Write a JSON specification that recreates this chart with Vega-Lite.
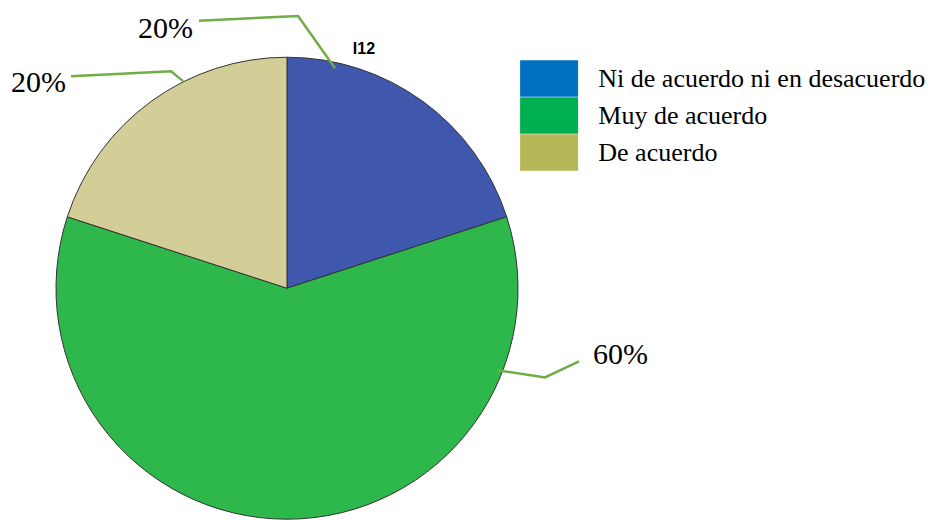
{
  "$schema": "https://vega.github.io/schema/vega-lite/v6.json",
  "width": 938,
  "height": 520,
  "autosize": {"type": "fit", "contains": "padding"},
  "padding": 0,
  "background": "white",
  "config": {"view": {"stroke": null}},
  "datasets": {
    "pie": [
      {"respuesta": "Ni de acuerdo ni en desacuerdo", "porcentaje": 20, "orden": 1},
      {"respuesta": "Muy de acuerdo", "porcentaje": 60, "orden": 2},
      {"respuesta": "De acuerdo", "porcentaje": 20, "orden": 3}
    ],
    "lines": [
      {"linea": "a", "punto": 1, "x": -0.381, "y": 1.169},
      {"linea": "a", "punto": 2, "x": 0.048, "y": 1.19},
      {"linea": "a", "punto": 3, "x": 0.208, "y": 0.961},
      {"linea": "b", "punto": 1, "x": -0.935, "y": 0.926},
      {"linea": "b", "punto": 2, "x": -0.502, "y": 0.948},
      {"linea": "b", "punto": 3, "x": -0.45, "y": 0.905},
      {"linea": "c", "punto": 1, "x": 0.913, "y": -0.359},
      {"linea": "c", "punto": 2, "x": 1.117, "y": -0.39},
      {"linea": "c", "punto": 3, "x": 1.264, "y": -0.32}
    ],
    "labels": [
      {"texto": "20%", "x": -0.645, "y": 1.095},
      {"texto": "20%", "x": -1.195, "y": 0.857},
      {"texto": "60%", "x": 1.325, "y": -0.333}
    ],
    "title": [
      {"texto": "I12", "x": 0.333, "y": 1.022}
    ]
  },
  "layer": [
    {
      "data": {"name": "pie"},
      "mark": {"type": "point", "filled": true, "size": 1},
      "encoding": {
        "x": {"datum": 0, "type": "quantitative", "scale": {"domain": [-1.2424, 2.8182], "nice": false, "zero": false}, "axis": null},
        "y": {"datum": 0, "type": "quantitative", "scale": {"domain": [-0.9913, 1.2597], "nice": false, "zero": false}, "axis": null},
        "color": {
          "field": "respuesta",
          "type": "nominal",
          "scale": {
            "domain": ["Ni de acuerdo ni en desacuerdo", "Muy de acuerdo", "De acuerdo"],
            "range": ["#0070c0", "#00b050", "#b5b656"]
          },
          "legend": {
            "title": null,
            "orient": "none",
            "legendX": 530.6,
            "legendY": 60,
            "padding": 0,
            "symbolType": "M-1.58,-1H1.58V1H-1.58Z",
            "symbolSize": 1347,
            "symbolStrokeWidth": 0,
            "symbolOpacity": 1,
            "labelFont": "Times New Roman",
            "labelFontSize": 26,
            "labelColor": "#000000",
            "labelOffset": 30.7,
            "labelLimit": 500,
            "rowPadding": 0
          }
        }
      }
    },
    {
      "data": {"name": "pie"},
      "mark": {"type": "arc", "outerRadius": 231, "stroke": "#333333", "strokeWidth": 1},
      "encoding": {
        "theta": {"field": "porcentaje", "type": "quantitative", "stack": true},
        "order": {"field": "orden", "type": "quantitative"},
        "x": {"datum": 0, "type": "quantitative", "scale": {"domain": [-1.2424, 2.8182], "nice": false, "zero": false}, "axis": null},
        "y": {"datum": 0, "type": "quantitative", "scale": {"domain": [-0.9913, 1.2597], "nice": false, "zero": false}, "axis": null},
        "fill": {
          "field": "respuesta",
          "type": "nominal",
          "scale": {
            "domain": ["Ni de acuerdo ni en desacuerdo", "Muy de acuerdo", "De acuerdo"],
            "range": ["#3f57ad", "#2eb84b", "#d3cd98"]
          },
          "legend": null
        }
      }
    },
    {
      "data": {"name": "lines"},
      "mark": {"type": "line", "color": "#70ad47", "strokeWidth": 2.5},
      "encoding": {
        "x": {"field": "x", "type": "quantitative", "scale": {"domain": [-1.2424, 2.8182], "nice": false, "zero": false}, "axis": null},
        "y": {"field": "y", "type": "quantitative", "scale": {"domain": [-0.9913, 1.2597], "nice": false, "zero": false}, "axis": null},
        "detail": {"field": "linea", "type": "nominal"},
        "order": {"field": "punto", "type": "quantitative"}
      }
    },
    {
      "data": {"name": "labels"},
      "mark": {"type": "text", "font": "Times New Roman", "fontSize": 30, "align": "left", "baseline": "alphabetic", "color": "#000000"},
      "encoding": {
        "x": {"field": "x", "type": "quantitative", "scale": {"domain": [-1.2424, 2.8182], "nice": false, "zero": false}, "axis": null},
        "y": {"field": "y", "type": "quantitative", "scale": {"domain": [-0.9913, 1.2597], "nice": false, "zero": false}, "axis": null},
        "text": {"field": "texto", "type": "nominal"}
      }
    },
    {
      "data": {"name": "title"},
      "mark": {"type": "text", "font": "Liberation Sans", "fontSize": 16, "fontWeight": "bold", "align": "center", "baseline": "alphabetic", "color": "#000000"},
      "encoding": {
        "x": {"field": "x", "type": "quantitative", "scale": {"domain": [-1.2424, 2.8182], "nice": false, "zero": false}, "axis": null},
        "y": {"field": "y", "type": "quantitative", "scale": {"domain": [-0.9913, 1.2597], "nice": false, "zero": false}, "axis": null},
        "text": {"field": "texto", "type": "nominal"}
      }
    }
  ]
}
